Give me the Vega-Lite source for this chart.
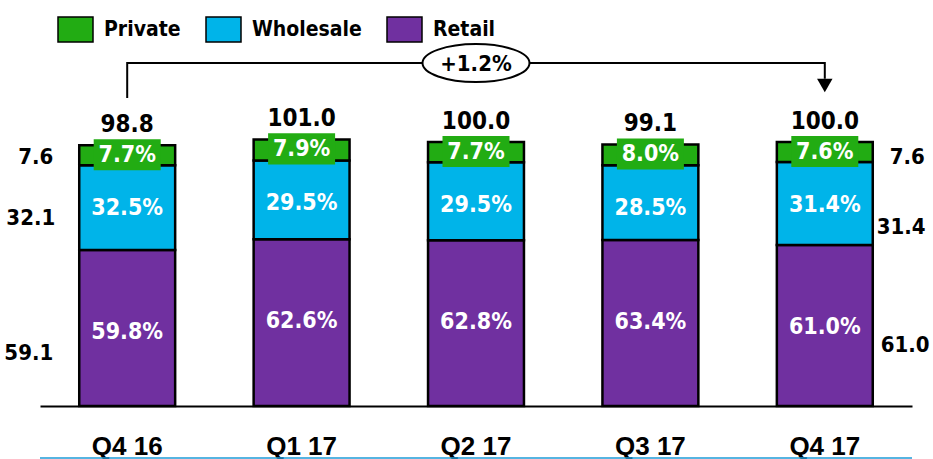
{
  "$schema": "https://vega.github.io/schema/vega-lite/v6.json",
  "autosize": "none",
  "width": 872,
  "height": 406,
  "padding": {"left": 40, "top": 0, "right": 21, "bottom": 53},
  "background": "white",
  "config": {
    "view": {"stroke": null},
    "font": "'DejaVu Sans Condensed', 'DejaVu Sans', sans-serif",
    "text": {"font": "'DejaVu Sans Condensed', 'DejaVu Sans', sans-serif", "fontWeight": "bold"},
    "axisX": {
      "title": null,
      "labelAngle": 0,
      "domainColor": "black",
      "domainWidth": 2,
      "ticks": false,
      "labelFont": "Liberation Sans",
      "labelFontWeight": "bold",
      "labelFontSize": 26,
      "labelColor": "black",
      "labelPadding": 27
    }
  },
  "datasets": {
    "bars": [
      {"quarter": "Q4 16", "series": "Retail", "value": 59.1, "pct": 0.598},
      {"quarter": "Q4 16", "series": "Wholesale", "value": 32.1, "pct": 0.325},
      {"quarter": "Q4 16", "series": "Private", "value": 7.6, "pct": 0.077},
      {"quarter": "Q1 17", "series": "Retail", "value": 63.2, "pct": 0.626},
      {"quarter": "Q1 17", "series": "Wholesale", "value": 29.8, "pct": 0.295},
      {"quarter": "Q1 17", "series": "Private", "value": 8.0, "pct": 0.079},
      {"quarter": "Q2 17", "series": "Retail", "value": 62.8, "pct": 0.628},
      {"quarter": "Q2 17", "series": "Wholesale", "value": 29.5, "pct": 0.295},
      {"quarter": "Q2 17", "series": "Private", "value": 7.7, "pct": 0.077},
      {"quarter": "Q3 17", "series": "Retail", "value": 62.9, "pct": 0.634},
      {"quarter": "Q3 17", "series": "Wholesale", "value": 28.3, "pct": 0.285},
      {"quarter": "Q3 17", "series": "Private", "value": 7.9, "pct": 0.080},
      {"quarter": "Q4 17", "series": "Retail", "value": 61.0, "pct": 0.610},
      {"quarter": "Q4 17", "series": "Wholesale", "value": 31.4, "pct": 0.314},
      {"quarter": "Q4 17", "series": "Private", "value": 7.6, "pct": 0.076}
    ],
    "totals": [
      {"quarter": "Q4 16", "total": 98.8},
      {"quarter": "Q1 17", "total": 101.0},
      {"quarter": "Q2 17", "total": 100.0},
      {"quarter": "Q3 17", "total": 99.1},
      {"quarter": "Q4 17", "total": 100.0}
    ],
    "bracket": [
      {"step": 1, "quarter": "Q4 16", "level": 116.7},
      {"step": 2, "quarter": "Q4 16", "level": 129.9},
      {"step": 3, "quarter": "Q4 17", "level": 129.9},
      {"step": 4, "quarter": "Q4 17", "level": 124.0}
    ]
  },
  "layer": [
    {
      "data": {"name": "bars"},
      "transform": [
        {"stack": "value", "groupby": ["quarter"], "sort": [{"field": "value", "order": "descending"}], "as": ["y0", "y1"]}
      ],
      "encoding": {
        "x": {
          "field": "quarter",
          "type": "nominal",
          "scale": {"domain": ["Q4 16", "Q1 17", "Q2 17", "Q3 17", "Q4 17"], "paddingInner": 0.45, "paddingOuter": 0.225}
        }
      },
      "layer": [
        {
          "mark": {"type": "bar", "stroke": "black", "strokeWidth": 2.5},
          "encoding": {
            "y": {"field": "y0", "type": "quantitative", "scale": {"domain": [0, 153.8], "nice": false, "zero": true}, "axis": null},
            "y2": {"field": "y1"},
            "color": {
              "field": "series",
              "type": "nominal",
              "scale": {"domain": ["Private", "Wholesale", "Retail"], "range": ["#22AC13", "#00B4E9", "#7030A0"]},
              "legend": {
                "title": null,
                "orient": "none",
                "legendX": 17,
                "legendY": 11,
                "direction": "horizontal",
                "padding": 0,
                "symbolType": "M-1,-0.71L1,-0.71L1,0.71L-1,0.71Z",
                "symbolSize": 1225,
                "symbolStrokeColor": "black",
                "symbolStrokeWidth": 1.5,
                "symbolOpacity": 1,
                "labelFont": "'DejaVu Sans Condensed', 'DejaVu Sans', sans-serif",
                "labelFontWeight": "bold",
                "labelFontSize": 21,
                "labelColor": "black",
                "labelOffset": 10,
                "columnPadding": 22
              }
            }
          }
        },
        {
          "transform": [{"filter": "datum.series === 'Private'"}],
          "mark": {"type": "point", "shape": "M-1,-0.463L1,-0.463L1,0.463L-1,0.463Z", "filled": true, "fill": "#22AC13", "stroke": null, "size": 4489, "opacity": 1, "yOffset": 9.5},
          "encoding": {"y": {"field": "y1", "type": "quantitative"}}
        },
        {
          "transform": [{"filter": "datum.series === 'Private'"}],
          "mark": {"type": "text", "color": "white", "fontSize": 23, "baseline": "middle", "dy": 10},
          "encoding": {"y": {"field": "y1", "type": "quantitative"}, "text": {"field": "pct", "type": "quantitative", "format": ".1%"}}
        },
        {
          "transform": [{"filter": "datum.series === 'Wholesale'"}],
          "mark": {"type": "text", "color": "white", "fontSize": 23, "baseline": "middle", "dy": 43},
          "encoding": {"y": {"field": "y1", "type": "quantitative"}, "text": {"field": "pct", "type": "quantitative", "format": ".1%"}}
        },
        {
          "transform": [{"filter": "datum.series === 'Retail'"}],
          "mark": {"type": "text", "color": "white", "fontSize": 23, "baseline": "middle", "dy": 82},
          "encoding": {"y": {"field": "y1", "type": "quantitative"}, "text": {"field": "pct", "type": "quantitative", "format": ".1%"}}
        },
        {
          "transform": [{"filter": "datum.quarter === 'Q4 16' && datum.series === 'Private'"}],
          "mark": {"type": "text", "color": "black", "fontSize": 22, "baseline": "middle", "align": "right", "dx": -74, "dy": 12},
          "encoding": {"y": {"field": "y1", "type": "quantitative"}, "text": {"field": "value", "type": "quantitative", "format": ".1f"}}
        },
        {
          "transform": [{"filter": "datum.quarter === 'Q4 16' && datum.series === 'Wholesale'"}],
          "mark": {"type": "text", "color": "black", "fontSize": 22, "baseline": "middle", "align": "right", "dx": -72, "dy": 53},
          "encoding": {"y": {"field": "y1", "type": "quantitative"}, "text": {"field": "value", "type": "quantitative", "format": ".1f"}}
        },
        {
          "transform": [{"filter": "datum.quarter === 'Q4 16' && datum.series === 'Retail'"}],
          "mark": {"type": "text", "color": "black", "fontSize": 22, "baseline": "middle", "align": "right", "dx": -74, "dy": 103},
          "encoding": {"y": {"field": "y1", "type": "quantitative"}, "text": {"field": "value", "type": "quantitative", "format": ".1f"}}
        },
        {
          "transform": [{"filter": "datum.quarter === 'Q4 17' && datum.series === 'Private'"}],
          "mark": {"type": "text", "color": "black", "fontSize": 22, "baseline": "middle", "align": "left", "dx": 65, "dy": 15},
          "encoding": {"y": {"field": "y1", "type": "quantitative"}, "text": {"field": "value", "type": "quantitative", "format": ".1f"}}
        },
        {
          "transform": [{"filter": "datum.quarter === 'Q4 17' && datum.series === 'Wholesale'"}],
          "mark": {"type": "text", "color": "black", "fontSize": 22, "baseline": "middle", "align": "left", "dx": 52, "dy": 65},
          "encoding": {"y": {"field": "y1", "type": "quantitative"}, "text": {"field": "value", "type": "quantitative", "format": ".1f"}}
        },
        {
          "transform": [{"filter": "datum.quarter === 'Q4 17' && datum.series === 'Retail'"}],
          "mark": {"type": "text", "color": "black", "fontSize": 22, "baseline": "middle", "align": "left", "dx": 56, "dy": 100},
          "encoding": {"y": {"field": "y1", "type": "quantitative"}, "text": {"field": "value", "type": "quantitative", "format": ".1f"}}
        }
      ]
    },
    {
      "data": {"name": "totals"},
      "mark": {"type": "text", "color": "black", "fontSize": 24, "baseline": "alphabetic", "dy": -13},
      "encoding": {
        "x": {"field": "quarter", "type": "nominal"},
        "y": {"field": "total", "type": "quantitative"},
        "text": {"field": "total", "type": "quantitative", "format": ".1f"}
      }
    },
    {
      "data": {"name": "bracket"},
      "mark": {"type": "line", "color": "black", "strokeWidth": 2},
      "encoding": {
        "x": {"field": "quarter", "type": "nominal"},
        "y": {"field": "level", "type": "quantitative"},
        "order": {"field": "step", "type": "quantitative"}
      }
    },
    {
      "data": {"values": [{}]},
      "mark": {"type": "point", "shape": "triangle-down", "filled": true, "color": "black", "size": 240, "opacity": 1},
      "encoding": {"x": {"datum": "Q4 17"}, "y": {"datum": 121.4}}
    },
    {
      "data": {"values": [{}]},
      "mark": {"type": "point", "shape": "M-1,0C-1,-0.196,-0.552,-0.355,0,-0.355C0.552,-0.355,1,-0.196,1,0C1,0.196,0.552,0.355,0,0.355C-0.552,0.355,-1,0.196,-1,0Z", "filled": true, "fill": "white", "stroke": "black", "strokeWidth": 2, "size": 11449, "opacity": 1},
      "encoding": {"x": {"datum": "Q2 17"}, "y": {"datum": 129.9}}
    },
    {
      "data": {"values": [{}]},
      "mark": {"type": "text", "color": "black", "fontSize": 22, "baseline": "middle", "dy": 1},
      "encoding": {"x": {"datum": "Q2 17"}, "y": {"datum": 129.9}, "text": {"value": "+1.2%"}}
    },
    {
      "data": {"values": [{}]},
      "mark": {"type": "rule", "color": "#1E9BD7", "strokeWidth": 1.5},
      "encoding": {"y": {"datum": -19.7}}
    }
  ]
}
